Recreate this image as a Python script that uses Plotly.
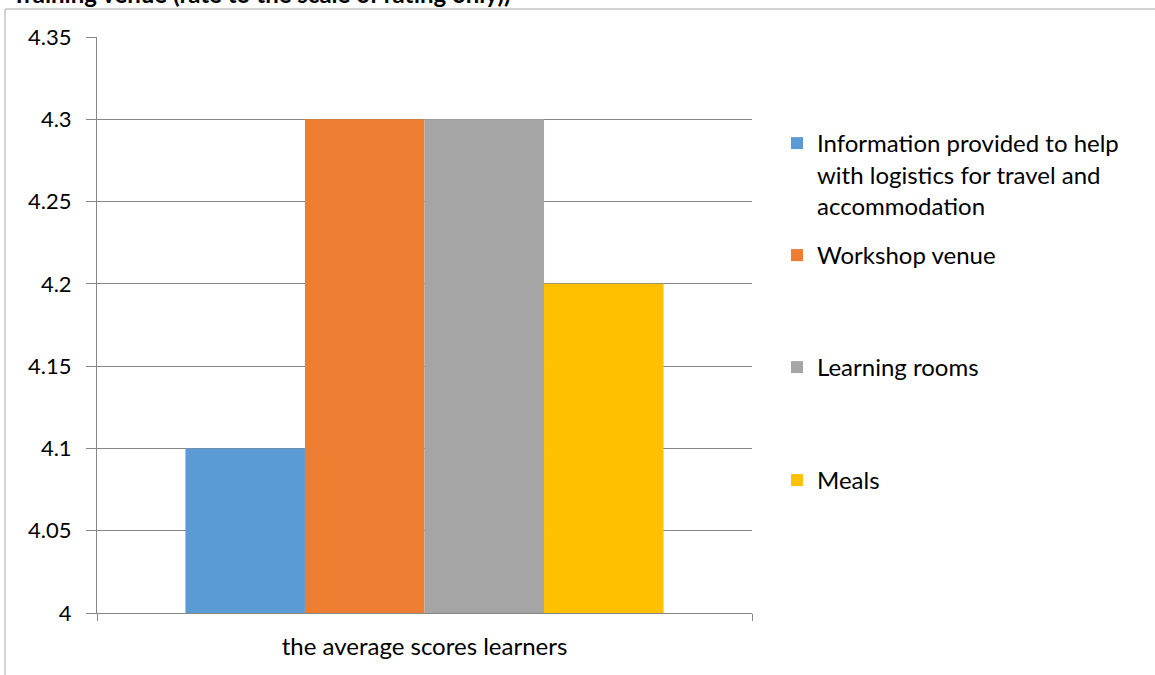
import plotly.graph_objects as go

categories = ["the average scores learners"]
series_names = [
    "Information provided to help<br>with logistics for travel and<br>accommodation",
    "Workshop venue",
    "Learning rooms",
    "Meals",
]
series_values = [4.1, 4.3, 4.3, 4.2]
series_colors = ["#5B9BD5", "#ED7D31", "#A5A5A5", "#FFC000"]
y_ticks = [4, 4.05, 4.1, 4.15, 4.2, 4.25, 4.3, 4.35]
y_ticktext = ["4", "4.05", "4.1", "4.15", "4.2", "4.25", "4.3", "4.35"]
title_text = "Training venue (rate to the scale of rating only))"

W, H = 1155, 675
L, R, T, B = 97, 752, 37, 613
pw, ph = R - L, B - T

def px_x(x):
    return (x - L) / pw

def px_y(y):
    return (B - y) / ph

FONT = "Lato"
fig = go.Figure()
legend_ids = ["legend", "legend2", "legend3", "legend4"]
for name, val, col, lg in zip(series_names, series_values, series_colors, legend_ids):
    fig.add_trace(go.Bar(x=categories, y=[val], name=name, marker_color=col,
                         marker_line_width=0, legend=lg))

legend_rows = [143, 255, 367, 480]
leg_common = dict(font=dict(family=FONT, size=24, color="#000000"),
                  bgcolor="rgba(0,0,0,0)", xanchor="left", yanchor="top",
                  itemwidth=30, tracegroupgap=0, valign="top")
layout_legends = {}
for lg, yrow in zip(legend_ids, legend_rows):
    layout_legends[lg] = dict(x=px_x(777), y=px_y(yrow - 22), **leg_common)

fig.update_layout(
    width=W, height=H,
    margin=dict(l=L, r=W - R, t=T, b=H - B, pad=0),
    paper_bgcolor="white", plot_bgcolor="white",
    barmode="group", bargap=0.27, bargroupgap=0,
    showlegend=True,
    font=dict(family=FONT, size=22, color="#000000"),
    xaxis=dict(showline=True, linecolor="#868686", linewidth=1,
               ticks="outside", tickson="boundaries", ticklen=7, tickcolor="#868686",
               ticklabelstandoff=12,
               tickfont=dict(family=FONT, size=24), showgrid=False),
    yaxis=dict(range=[4, 4.35], tickvals=y_ticks, ticktext=y_ticktext,
               showline=True, linecolor="#868686", linewidth=1,
               ticks="outside", ticklen=10, tickcolor="#868686",
               ticklabelstandoff=10,
               showgrid=True, gridcolor="#868686", gridwidth=1,
               zeroline=False, tickfont=dict(family=FONT, size=22)),
    **layout_legends,
)

# chart area border (top and left visible)
fig.add_shape(type="line", xref="paper", yref="paper",
              x0=px_x(5), x1=px_x(1160), y0=px_y(9), y1=px_y(9),
              line=dict(color="#A6A6A6", width=1))
fig.add_shape(type="line", xref="paper", yref="paper",
              x0=px_x(5), x1=px_x(5), y0=px_y(9), y1=px_y(680),
              line=dict(color="#A6A6A6", width=1))

fig.add_annotation(text="<b>" + title_text + "</b>", xref="paper", yref="paper",
                   x=px_x(10), y=px_y(10), xanchor="left", yanchor="bottom",
                   showarrow=False, font=dict(family=FONT, size=24, color="#000000"))

fig.write_html("out.html", config={"displayModeBar": False},
               post_script="document.body.style.margin='0';")
